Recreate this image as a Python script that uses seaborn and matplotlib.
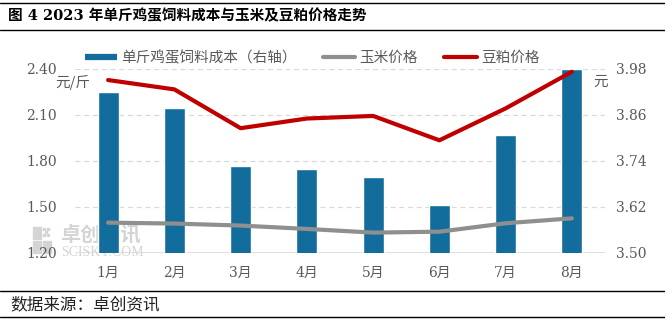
import numpy as np
import pandas as pd
import matplotlib
matplotlib.use("Agg")
import matplotlib.pyplot as plt
from matplotlib.lines import Line2D
from matplotlib.patches import Rectangle
import seaborn as sns

# ---- data ----
months = ["1月", "2月", "3月", "4月", "5月", "6月", "7月", "8月"]
egg_feed_cost = [3.920, 3.878, 3.728, 3.718, 3.697, 3.626, 3.807, 3.980]   # right axis (元)
corn_price = [1.398, 1.392, 1.379, 1.357, 1.333, 1.339, 1.394, 1.426]      # left axis (元/斤)
soymeal_price = [2.328, 2.267, 2.014, 2.077, 2.094, 1.935, 2.143, 2.382]   # left axis (元/斤)
left_ticks = [1.20, 1.50, 1.80, 2.10, 2.40]
right_ticks = [3.50, 3.62, 3.74, 3.86, 3.98]

title = "图 4 2023 年单斤鸡蛋饲料成本与玉米及豆粕价格走势"
source = "数据来源：卓创资讯"
bar_label = "单斤鸡蛋饲料成本（右轴）"
corn_label = "玉米价格"
soy_label = "豆粕价格"

sns.set_theme(style="white")
plt.rcParams["font.family"] = ["DejaVu Serif", "Noto Sans CJK SC"]
plt.rcParams["axes.unicode_minus"] = False

BLUE = "#136d9c"
RED = "#c00000"
GRAY = "#8f8f8f"
TXT = "#595959"
GRID = "#d9d9d9"

df = pd.DataFrame({
    "month": months,
    "pos": np.arange(len(months)),
    "egg": egg_feed_cost,
    "corn": corn_price,
    "soy": soymeal_price,
})

fig = plt.figure(figsize=(6.65, 3.22), dpi=100)
ax = fig.add_axes([75 / 665, 1 - 253 / 322, 530 / 665, 184 / 322])
ax2 = ax.twinx()

# bars on the primary axes (scale shown on the right)
sns.barplot(data=df, x="month", y="egg", ax=ax, color=BLUE, width=0.32,
            saturation=1, zorder=2)
ax.set_ylim(3.50, 3.98)
ax.set_xlim(-0.5, len(months) - 0.5)
ax.set_yticks(right_ticks)
ax.set_yticklabels([f"{v:.2f}" for v in right_ticks])
ax.yaxis.tick_right()
ax.yaxis.set_label_position("right")
ax.grid(axis="y", color=GRID, linestyle=(0, (4, 3)), linewidth=0.9, zorder=0)
ax.grid(axis="x", visible=False)
ax.set_axisbelow(True)
ax.axhline(3.50, color=GRID, linewidth=1.2, zorder=1)

# lines on the twin axes (scale shown on the left)
sns.lineplot(data=df, x="pos", y="corn", ax=ax2, color=GRAY, linewidth=3,
             sort=False, estimator=None, zorder=3)
sns.lineplot(data=df, x="pos", y="soy", ax=ax2, color=RED, linewidth=3,
             sort=False, estimator=None, zorder=3)
ax2.set_ylim(1.20, 2.40)
ax2.set_yticks(left_ticks)
ax2.set_yticklabels([f"{v:.2f}" for v in left_ticks])
ax2.yaxis.tick_left()
ax2.yaxis.set_label_position("left")
ax2.set_xlim(-0.5, len(months) - 0.5)
ax2.grid(False)

for a in (ax, ax2):
    for s in a.spines.values():
        s.set_visible(False)
    a.set_xlabel("")
    a.set_ylabel("")
    a.patch.set_visible(False)
    a.tick_params(axis="both", length=0, labelsize=10, labelcolor=TXT)

ax.tick_params(axis="y", pad=8)
ax2.tick_params(axis="y", pad=13)
ax.tick_params(axis="x", pad=9)
ax.set_xticks(range(len(months)))
ax.set_xticklabels(months)
ax2.tick_params(axis="x", bottom=False, labelbottom=False)
if ax2.get_legend():
    ax2.get_legend().remove()

# legend
handles = [
    Line2D([0], [0], color=BLUE, lw=4.5, solid_capstyle="butt"),
    Line2D([0], [0], color=GRAY, lw=3, solid_capstyle="round"),
    Line2D([0], [0], color=RED, lw=3, solid_capstyle="round"),
]
leg = fig.legend(handles, [bar_label, corn_label, soy_label], ncol=3,
                 loc="center left", bbox_to_anchor=(85 / 665, 1 - 58 / 322),
                 frameon=False, handlelength=2.2, handletextpad=0.3,
                 columnspacing=1.8, borderaxespad=0, borderpad=0,
                 prop={"family": ["Noto Sans CJK SC"], "size": 10.5})
for t in leg.get_texts():
    t.set_color(TXT)

# unit labels
fig.text(55 / 665, 1 - 82 / 322, "元/斤", ha="left", va="center", fontsize=10.5,
         color=TXT, family=["Noto Sans CJK SC"])
fig.text(593 / 665, 1 - 82 / 322, "元", ha="left", va="center", fontsize=10.5,
         color=TXT, family=["Noto Sans CJK SC"])

# watermark
wm = "#d4d4d4"
for (x0, y0, w, h) in [(33, 227, 8, 12), (33, 241, 8, 12), (43, 241, 8, 12)]:
    fig.patches.append(Rectangle((x0 / 665, 1 - (y0 + h) / 322), w / 665, h / 322,
                                 transform=fig.transFigure, color=wm, zorder=-2))
for (x0, y0) in [(43, 228), (47, 228), (45, 231), (43, 234), (47, 234)]:
    fig.patches.append(Rectangle((x0 / 665, 1 - (y0 + 2) / 322), 2 / 665, 2 / 322,
                                 transform=fig.transFigure, color=wm, zorder=-2))
fig.text(60 / 665, 1 - 234 / 322, "卓创资讯", ha="left", va="center", fontsize=14.5,
         fontweight="bold", color=wm, family=["Noto Sans CJK SC"], zorder=-1)
fig.text(61 / 665, 1 - 246 / 322, "SCISKY.COM", ha="left", va="top", fontsize=10,
         color=wm, family=["Liberation Serif"], zorder=-1)

# title and footer
fig.text(8 / 665, 1 - 16 / 322, title, ha="left", va="center", fontsize=10.5,
         fontweight="bold", color="black",
         family=["DejaVu Serif", "Noto Sans CJK SC"])
fig.text(10 / 665, 1 - 305 / 322, source, ha="left", va="center", fontsize=12,
         color="#222222", family=["Noto Sans CJK SC"])
for yy in (3, 30, 291, 317):
    fig.add_artist(Line2D([0, 1], [1 - yy / 322, 1 - yy / 322],
                          transform=fig.transFigure, color="black", lw=1.0))

fig.savefig("out.png", dpi=100)
